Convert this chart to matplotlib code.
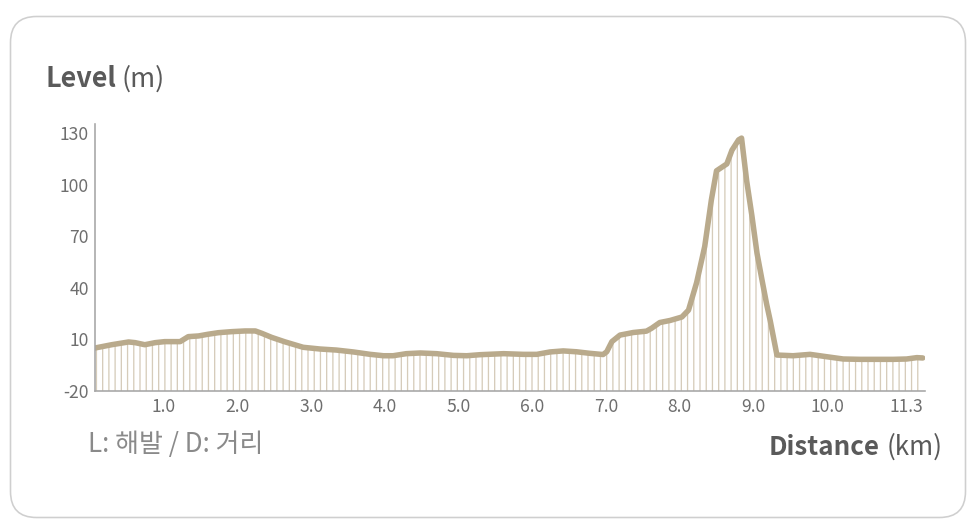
import matplotlib
matplotlib.use("Agg")
import matplotlib.pyplot as plt
from matplotlib.patches import FancyBboxPatch
from matplotlib.transforms import IdentityTransform

# ---- data ----
distance_km = [0.064, 0.29, 0.52, 0.61, 0.74, 0.88, 1.01, 1.22, 1.33, 1.47, 1.60, 1.74, 1.92,
               2.10, 2.24, 2.33, 2.46, 2.64, 2.89, 3.12, 3.34, 3.57, 3.80, 3.98, 4.11, 4.29,
               4.48, 4.70, 4.93, 5.11, 5.29, 5.61, 5.88, 6.06, 6.24, 6.42, 6.60, 6.78, 6.96,
               7.01, 7.08, 7.19, 7.37, 7.55, 7.62, 7.73, 7.87, 8.03, 8.12, 8.23, 8.34, 8.43,
               8.50, 8.64, 8.71, 8.80, 8.84, 8.91, 8.98, 9.05, 9.12, 9.18, 9.23, 9.32, 9.54,
               9.77, 10.0, 10.22, 10.45, 10.90, 11.08, 11.22, 11.3]
level_m = [5.0, 6.9, 8.5, 8.1, 6.9, 8.1, 8.7, 8.7, 11.6, 12.0, 13.0, 13.9, 14.5,
           14.9, 14.9, 13.5, 11.2, 8.6, 5.4, 4.4, 3.8, 2.7, 1.3, 0.5, 0.5, 1.7,
           2.1, 1.7, 0.7, 0.5, 1.1, 1.7, 1.3, 1.3, 2.7, 3.3, 2.8, 1.9, 1.2,
           2.8, 8.7, 12.5, 14.0, 14.8, 16.5, 19.8, 21.0, 23.0, 27.0, 43.0, 64.0, 91.0,
           108.0, 112.0, 120.0, 126.0, 127.0, 102.0, 82.0, 60.0, 44.0, 30.6, 20.7, 0.9, 0.5,
           1.3, -0.1, -1.4, -1.6, -1.6, -1.4, -0.6, -0.8]
x_ticks = [1.0, 2.0, 3.0, 4.0, 5.0, 6.0, 7.0, 8.0, 9.0, 10.0, 11.3]
x_tick_labels = ["1.0", "2.0", "3.0", "4.0", "5.0", "6.0", "7.0", "8.0", "9.0", "10.0", "11.3"]
y_ticks = [-20, 10, 40, 70, 100, 130]
y_tick_labels = ["-20", "10", "40", "70", "100", "130"]

DPI = 112
W, H = 974, 530
def px(v):  # pixels -> points
    return v * 72.0 / DPI

FONT = ["Noto Sans CJK KR", "DejaVu Sans"]
plt.rcParams["font.family"] = FONT
plt.rcParams["hatch.linewidth"] = px(1.3)

fig = plt.figure(figsize=(W / DPI, H / DPI), dpi=DPI, facecolor="white")

# rounded border box
box = FancyBboxPatch((10.5, 12.5), 955, 501, boxstyle="round,pad=0,rounding_size=26",
                     transform=IdentityTransform(), facecolor="none",
                     edgecolor="#cfcfcf", linewidth=px(1.6), zorder=-10)
fig.patches.append(box)

ax_left, ax_right = 95, 925
ax_bottom, ax_top = 391, 124
ax = fig.add_axes([ax_left / W, (H - ax_bottom) / H,
                   (ax_right - ax_left) / W, (ax_bottom - ax_top) / H])
ax.set_facecolor("none")
ax.set_xlim(0.064, 11.33)
ax.set_ylim(-20, 135.2)

line_color = "#b9aa8c"
stem_color = "#d6ccba"
ax.fill_between(distance_km, -20, level_m, facecolor="none", edgecolor=stem_color,
                linewidth=0, hatch="|||", zorder=1)
ax.plot(distance_km, level_m, color=line_color, linewidth=px(5.5),
        solid_joinstyle="round", solid_capstyle="round", zorder=3)

for s in ["top", "right"]:
    ax.spines[s].set_visible(False)
for s in ["left", "bottom"]:
    ax.spines[s].set_color("#a6a6a6")
    ax.spines[s].set_linewidth(px(1.6))
    ax.spines[s].set_zorder(4)

tick_color = "#6e6e6e"
ax.set_xticks(x_ticks)
ax.set_xticklabels(x_tick_labels)
ax.set_yticks(y_ticks)
ax.set_yticklabels(y_tick_labels)
ax.tick_params(axis="both", length=0, colors=tick_color, labelsize=px(17.5))
ax.tick_params(axis="x", pad=px(7))
ax.tick_params(axis="y", pad=px(6))
ax.get_xticklabels()[-1].set_horizontalalignment("right")

title_color = "#5a5a5a"
t1 = fig.text(46 / W, (H - 87) / H, "Level", fontsize=px(27), fontweight="bold",
              color=title_color, ha="left", va="baseline")
t1b = plt.annotate("(m)", xy=(1, 0), xycoords=t1, xytext=(px(5), 0),
                   textcoords="offset points", fontsize=px(27), color=title_color,
                   ha="left", va="bottom", annotation_clip=False)
t1b.remove()
fig.add_artist(t1b)

t2 = fig.text(943 / W, (H - 455) / H, "(km)", fontsize=px(26), color=title_color,
              ha="right", va="baseline")
t2b = plt.annotate("Distance", xy=(0, 0), xycoords=t2, xytext=(-px(7), 0),
                   textcoords="offset points", fontsize=px(26), fontweight="bold",
                   color=title_color, ha="right", va="bottom", annotation_clip=False)
t2b.remove()
fig.add_artist(t2b)

fig.text(88 / W, (H - 452) / H, "L: 해발 / D: 거리", fontsize=px(26), color="#8a8a8a",
         ha="left", va="baseline")

fig.savefig("out.png", dpi=DPI, facecolor="white")
